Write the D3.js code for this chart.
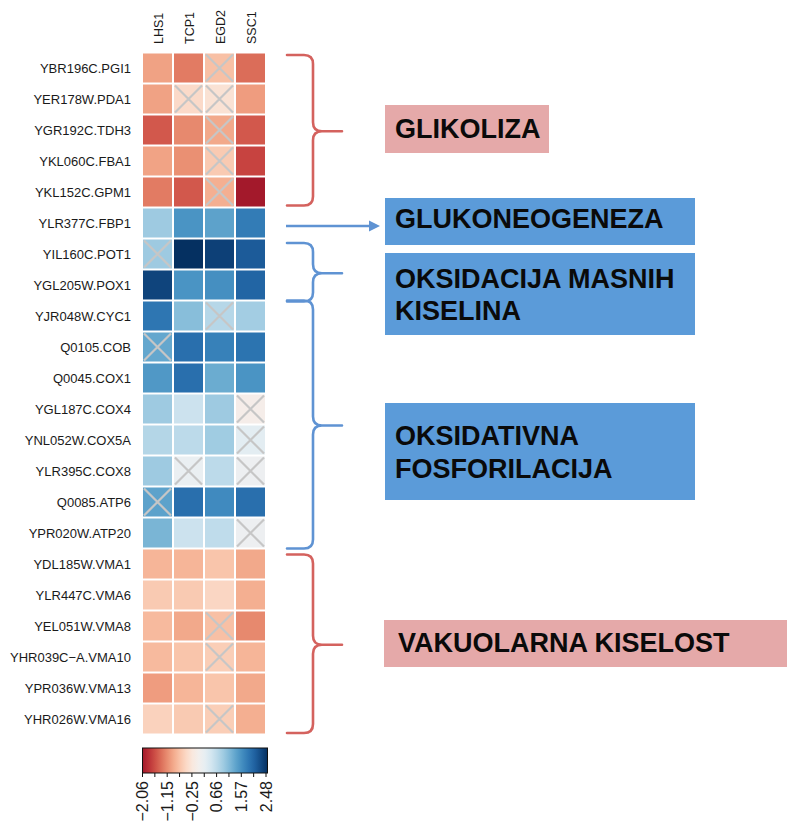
<!DOCTYPE html>
<html>
<head>
<meta charset="utf-8">
<script src="https://cdn.jsdelivr.net/npm/d3@7"></script>
<style>
  html, body { margin: 0; padding: 0; background: #ffffff; }
  svg { display: block; }
</style>
</head>
<body>
<svg id="chart" width="787" height="828"></svg>
<script>
// ---------------- DATA ----------------
const genes = [
  "YBR196C.PGI1", "YER178W.PDA1", "YGR192C.TDH3", "YKL060C.FBA1", "YKL152C.GPM1",
  "YLR377C.FBP1", "YIL160C.POT1", "YGL205W.POX1", "YJR048W.CYC1", "Q0105.COB",
  "Q0045.COX1", "YGL187C.COX4", "YNL052W.COX5A", "YLR395C.COX8", "Q0085.ATP6",
  "YPR020W.ATP20", "YDL185W.VMA1", "YLR447C.VMA6", "YEL051W.VMA8", "YHR039C\u2212A.VMA10",
  "YPR036W.VMA13", "YHR026W.VMA16"
];
const samples = ["LHS1", "TCP1", "EGD2", "SSC1"];

const valuesLHS1 = [-1.00, -1.00, -1.54, -0.99, -1.29, 0.89, 0.89, 2.30, 1.80, 1.29, 1.44,
                     0.89, 0.72, 0.89, 1.34, 1.14, -0.84, -0.64, -0.79, -0.79, -1.04, -0.55];
const valuesTCP1 = [-1.29, -0.45, -1.19, -1.14, -1.54, 1.49, 2.48, 1.49, 1.04, 1.88, 1.88,
                     0.50, 0.65, 0.15, 1.88, 0.50, -0.84, -0.64, -0.94, -0.69, -0.84, -0.64];
const valuesEGD2 = [-0.74, -0.35, -0.94, -0.64, -0.89, 1.34, 2.33, 1.54, 0.70, 1.69, 1.24,
                     0.89, 0.87, 0.65, 1.59, 0.62, -0.69, -0.50, -0.74, -0.60, -0.69, -0.60];
const valuesSSC1 = [-1.39, -1.04, -1.54, -1.69, -2.06, 1.74, 2.08, 1.98, 0.85, 1.83, 1.49,
                    -0.10, 0.25, 0.10, 1.88, 0.10, -0.94, -0.89, -1.19, -0.84, -0.94, -0.89];

// crossed-out cells (not significant): 1 = crossed
const crossLHS1 = [0,0,0,0,0,0,1,0,0,1,0,0,0,0,1,0,0,0,0,0,0,0];
const crossTCP1 = [0,1,0,0,0,0,0,0,0,0,0,0,0,1,0,0,0,0,0,0,0,0];
const crossEGD2 = [1,1,1,1,1,0,0,0,1,0,0,0,0,0,0,0,0,0,1,1,0,1];
const crossSSC1 = [0,0,0,0,0,0,0,0,0,0,0,1,1,1,0,1,0,0,0,0,0,0];

const legendTicks = [-2.06, -1.15, -0.25, 0.66, 1.57, 2.48];
const legendMin = -2.06, legendMax = 2.48;

// annotation groups (row ranges, inclusive)
const groupNames  = ["GLIKOLIZA", "GLUKONEOGENEZA", "OKSIDACIJA MASNIH|KISELINA", "OKSIDATIVNA|FOSFORILACIJA", "VAKUOLARNA KISELOST"];
const groupStart  = [0, 5, 6, 8, 16];
const groupEnd    = [4, 5, 7, 15, 21];
const groupKind   = ["red", "blue", "blue", "blue", "red"];
const groupMarker = ["brace", "arrow", "brace", "brace", "brace"];

// ---------------- LAYOUT ----------------
const svg = d3.select("#chart");
const cellX0 = 142, cellX1 = 266, cellY0 = 52.5, cellY1 = 734.5;
const FONT = "'Liberation Sans', Arial, Helvetica, sans-serif";

const x = d3.scaleBand().domain(samples).range([cellX0, cellX1]);
const y = d3.scaleBand().domain(genes).range([cellY0, cellY1]);

// symmetric diverging colour scale (white at 0)
const cmax = 2.48;
const color = v => d3.interpolateRdBu((v + cmax) / (2 * cmax));

const valueCols = [valuesLHS1, valuesTCP1, valuesEGD2, valuesSSC1];
const crossCols = [crossLHS1, crossTCP1, crossEGD2, crossSSC1];
const cells = [];
genes.forEach((g, i) => samples.forEach((s, j) => {
  cells.push({gene: g, sample: s, value: valueCols[j][i], cross: crossCols[j][i]});
}));

const gap = 1;
const heat = svg.append("g");
heat.selectAll("rect.cell").data(cells).enter().append("rect")
  .attr("class", "cell")
  .attr("x", d => x(d.sample) + gap)
  .attr("y", d => y(d.gene) + gap)
  .attr("width", x.bandwidth() - 2 * gap)
  .attr("height", y.bandwidth() - 2 * gap)
  .attr("fill", d => color(d.value));

const crossed = cells.filter(d => d.cross);
const ci = 2;
heat.selectAll("path.cross").data(crossed).enter().append("path")
  .attr("class", "cross")
  .attr("d", d => {
    const x0 = x(d.sample) + ci, x1 = x(d.sample) + x.bandwidth() - ci;
    const y0 = y(d.gene) + ci, y1 = y(d.gene) + y.bandwidth() - ci;
    return `M${x0},${y0}L${x1},${y1}M${x1},${y0}L${x0},${y1}`;
  })
  .attr("stroke", "#c6c6c6")
  .attr("stroke-width", 2.2)
  .attr("fill", "none");

// row labels
svg.append("g").selectAll("text").data(genes).enter().append("text")
  .attr("x", 131)
  .attr("y", d => y(d) + y.bandwidth() / 2)
  .attr("dy", "0.35em")
  .attr("text-anchor", "end")
  .attr("font-family", FONT)
  .attr("font-size", 13)
  .attr("fill", "#1a1a1a")
  .text(d => d);

// column labels (rotated)
svg.append("g").selectAll("text").data(samples).enter().append("text")
  .attr("transform", d => `translate(${x(d) + x.bandwidth() / 2 + 1},44) rotate(-90)`)
  .attr("dy", "0.35em")
  .attr("text-anchor", "start")
  .attr("font-family", FONT)
  .attr("font-size", 12.5)
  .attr("fill", "#1a1a1a")
  .text(d => d);

// ---------------- LEGEND ----------------
const lx = d3.scaleLinear().domain([legendMin, legendMax]).range([142.5, 266]);
const defs = svg.append("defs");
const grad = defs.append("linearGradient").attr("id", "lg").attr("x1", "0%").attr("x2", "100%");
d3.range(0, 1.0001, 0.05).forEach(t => {
  const v = legendMin + t * (legendMax - legendMin);
  grad.append("stop").attr("offset", (t * 100) + "%").attr("stop-color", color(v));
});
const legY0 = 748, legY1 = 773;
svg.append("rect")
  .attr("x", lx(legendMin)).attr("y", legY0)
  .attr("width", lx(legendMax) - lx(legendMin) + 1.5).attr("height", legY1 - legY0)
  .attr("fill", "url(#lg)")
  .attr("stroke", "#111").attr("stroke-width", 1);

const minorTicks = d3.range(11).map(i => legendMin + i * (legendMax - legendMin) / 10);
svg.append("g").selectAll("line").data(minorTicks).enter().append("line")
  .attr("x1", d => lx(d)).attr("x2", d => lx(d))
  .attr("y1", legY1).attr("y2", legY1 + 4)
  .attr("stroke", "#111").attr("stroke-width", 1);

svg.append("g").selectAll("text").data(legendTicks).enter().append("text")
  .attr("transform", d => `translate(${lx(d)},781) rotate(-90)`)
  .attr("dy", "0.36em")
  .attr("text-anchor", "end")
  .attr("font-family", FONT)
  .attr("font-size", 16)
  .attr("fill", "#1a1a1a")
  .text(d => d3.format(".2f")(d).replace("-", "\u2212"));

// ---------------- ANNOTATIONS ----------------
const RED = "#d4625e", BLUE = "#5f93d3";
const BOXPINK = "#e5a9a9", BOXBLUE = "#5b9bd9";
const braceX0 = 287, braceXs = 313, braceTip = 342;

function bracePath(top, bottom, mid) {
  const r = 9;
  return `M${braceX0},${top} L${braceXs - r},${top} Q${braceXs},${top} ${braceXs},${top + r}` +
         ` L${braceXs},${mid - r} Q${braceXs},${mid} ${braceXs + r},${mid} L${braceTip},${mid}` +
         ` M${braceXs + r},${mid} Q${braceXs},${mid} ${braceXs},${mid + r}` +
         ` L${braceXs},${bottom - r} Q${braceXs},${bottom} ${braceXs - r},${bottom} L${braceX0},${bottom}`;
}

const ann = svg.append("g");
groupNames.forEach((name, k) => {
  const top = y(genes[groupStart[k]]), bottom = y(genes[groupEnd[k]]) + y.bandwidth();
  const col = groupKind[k] === "red" ? RED : BLUE;
  if (groupMarker[k] === "brace") {
    const t = top + (k === 0 ? 2.5 : k === 4 ? 6 : k === 2 ? 4.5 : 0);
    const b = bottom - (k === 0 ? 2 : k === 4 ? 1.5 : k === 2 ? -1 : 0);
    ann.append("path")
      .attr("d", bracePath(t, b, (t + b) / 2 + 1))
      .attr("fill", "none").attr("stroke", col).attr("stroke-width", 2.6)
      .attr("stroke-linecap", "round");
  } else {
    const cy = y(genes[groupStart[k]]) + y.bandwidth() / 2 + 3;
    ann.append("line").attr("x1", 286).attr("x2", 371).attr("y1", cy).attr("y2", cy)
      .attr("stroke", col).attr("stroke-width", 2.6);
    ann.append("path").attr("d", `M369,${cy - 5.5} L380,${cy} L369,${cy + 5.5} Z`).attr("fill", col);
  }
});

// label boxes
const boxX  = [385, 385, 385, 385, 384];
const boxY  = [105, 198, 253, 403, 620];
const boxW  = [164, 310, 310, 310, 420];
const boxH  = [48, 47, 82, 97, 47];
const textY = [[138], [228], [288, 320], [445, 478], [652]];
groupNames.forEach((name, k) => {
  ann.append("rect")
    .attr("x", boxX[k]).attr("y", boxY[k]).attr("width", boxW[k]).attr("height", boxH[k])
    .attr("fill", groupKind[k] === "red" ? BOXPINK : BOXBLUE);
  name.split("|").forEach((line, li) => {
    ann.append("text")
      .attr("x", k === 4 ? 398 : 395).attr("y", textY[k][li])
      .attr("font-family", FONT).attr("font-weight", "bold").attr("font-size", 27)
      .attr("fill", "#0a0a0a")
      .text(line);
  });
});
</script>
</body>
</html>
